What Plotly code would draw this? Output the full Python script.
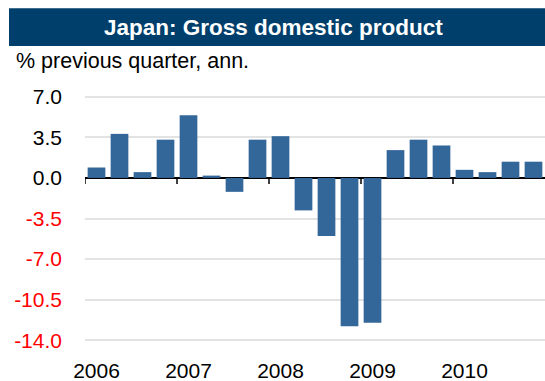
import plotly.graph_objects as go

quarters = [f"{y}Q{q}" for y in range(2006, 2011) for q in range(1, 5)]
gdp = [0.9, 3.8, 0.5, 3.3, 5.4, 0.2, -1.2, 3.3, 3.6, -2.8, -5.0, -12.8,
       -12.5, 2.4, 3.3, 2.8, 0.7, 0.5, 1.4, 1.4]
year_labels = ["2006", "2007", "2008", "2009", "2010"]
y_ticks = [7.0, 3.5, 0.0, -3.5, -7.0, -10.5, -14.0]
y_tick_labels = ["7.0", "3.5", "0.0", "-3.5", "-7.0", "-10.5", "-14.0"]

W, H = 545, 381
ML, MR, MT, MB = 85, 0, 91, 34.5
YMIN, YMAX = -14.5, 7.5
plot_h = H - MT - MB
plot_w = W - ML - MR

idx = list(range(len(quarters)))
year_pos = [i for i, q in enumerate(quarters) if q.endswith("Q1")]
boundaries = [i - 0.5 for i in year_pos]

ticktext = [t if v >= 0 else f'<span style="color:#FF0000">{t}</span>'
            for v, t in zip(y_ticks, y_tick_labels)]

fig = go.Figure(go.Bar(x=idx, y=gdp, marker_color="#336699",
                       marker_line_width=0, width=0.77))

shapes = []
def px_to_paper_x(px):
    return (px - ML) / plot_w
def px_to_paper_y(py):
    return (H - MB - py) / plot_h

shapes.append(dict(type="rect", xref="paper", yref="paper",
                   x0=px_to_paper_x(9), x1=px_to_paper_x(545),
                   y0=px_to_paper_y(46), y1=px_to_paper_y(8),
                   fillcolor="#003F6B", line_width=0, layer="above"))
for b in boundaries:
    shapes.append(dict(type="line", xref="x", yref="y", ysizemode="pixel",
                       yanchor=0, x0=b, x1=b, y0=0, y1=-6,
                       line=dict(color="black", width=1.5)))

fig.update_layout(
    width=W, height=H,
    margin=dict(l=ML, r=MR, t=MT, b=MB, pad=0),
    paper_bgcolor="white", plot_bgcolor="white",
    showlegend=False, bargap=0.2,
    font=dict(family="Liberation Sans, Arial, sans-serif", size=21, color="black"),
    xaxis=dict(range=[-0.5, 19.5], tickvals=year_pos, ticktext=year_labels,
               showgrid=False, zeroline=False, showline=False, ticks="",
               tickfont=dict(size=21), ticklabelstandoff=10),
    yaxis=dict(range=[YMIN, YMAX], tickvals=y_ticks, ticktext=ticktext,
               showgrid=True, gridcolor="#E3E3E3", gridwidth=2,
               zeroline=True, zerolinecolor="black", zerolinewidth=2,
               showline=False, ticks="", tickfont=dict(size=21),
               ticklabelstandoff=22),
    shapes=shapes,
    annotations=[
        dict(text="<b>Japan: Gross domestic product</b>", xref="paper", yref="paper",
             x=px_to_paper_x(273), y=px_to_paper_y(27), xanchor="center", yanchor="middle",
             showarrow=False, font=dict(size=22.5, color="white")),
        dict(text="% previous quarter, ann.", xref="paper", yref="paper",
             x=px_to_paper_x(14), y=px_to_paper_y(61), xanchor="left", yanchor="middle",
             showarrow=False, font=dict(size=21.5, color="black")),
    ],
)

fig.write_html("out.html")
